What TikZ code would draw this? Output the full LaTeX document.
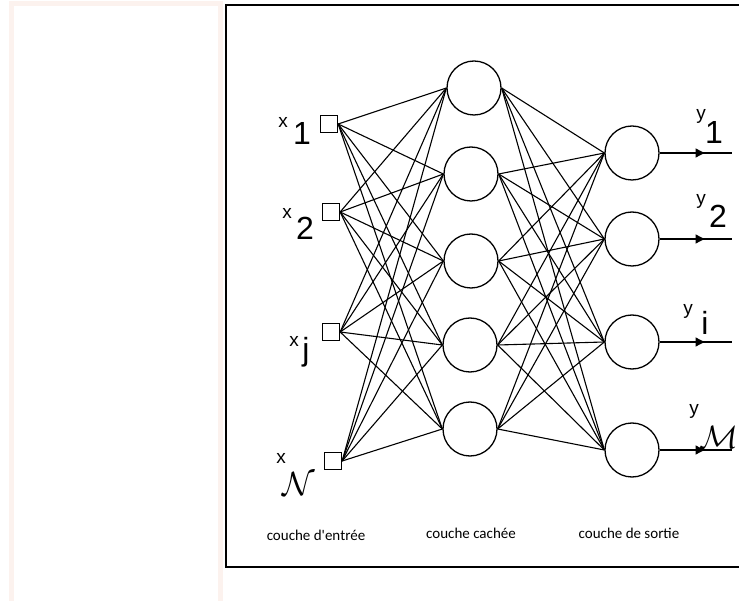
\documentclass[tikz,border=0pt]{standalone}
\usepackage{fontspec}
\setmainfont{Liberation Sans}
\newfontfamily\layerfont{Carlito}
\usetikzlibrary{arrows.meta,decorations.markings}
\definecolor{framepink}{RGB}{252,242,238}

\begin{document}
\begin{tikzpicture}[x=1pt, y=-1pt,
  inbox/.style={draw, line width=1.3pt, minimum size=17pt, inner sep=0pt},
  neuron/.style={draw, circle, line width=1.3pt, minimum size=54pt, inner sep=0pt},
  link/.style={line width=1.1pt},
  varname/.style={inner sep=0pt, font=\fontsize{19}{19}\selectfont},
  varidx/.style={inner sep=0pt, font=\fontsize{32}{32}\selectfont},
  calidx/.style={inner sep=0pt, font=\fontsize{24}{24}\selectfont},
  outarrow/.style={line width=1.3pt, postaction={decorate},
    decoration={markings, mark=at position 0.62 with {\arrow{Triangle[length=9pt,width=9pt]}}}},
  layer/.style={font=\layerfont\fontsize{15}{15}\selectfont}]
\useasboundingbox (0,0) rectangle (739,601);
\clip (0,0) rectangle (739,601);
% page frames
\draw[framepink, line width=5pt] (11,4) rectangle (220,620);
\draw[line width=1.8pt] (745,5) -- (226,5) -- (226,567) -- (745,567);
% layers
\foreach \n/\x/\y in {1/329/124, 2/331/212, 3/331/332, 4/333/461}
  \node[inbox] (i\n) at (\x,\y) {};
\foreach \n/\x/\y in {1/474/88, 2/471/174, 3/471/261, 4/470/345, 5/470/429}
  \node[neuron] (h\n) at (\x,\y) {};
\foreach \n/\y in {1/153, 2/239, 3/342, 4/450}{
  \node[neuron] (o\n) at (632,\y) {};
  \coordinate (e\n) at (732,\y);
  \draw[outarrow] (o\n.east) -- (e\n);
}
% connections
\foreach \i in {1,...,4}
  \foreach \h in {1,...,5}
    \draw[link] (i\i.east) -- (h\h.west);
\foreach \h in {1,...,5}
  \foreach \o in {1,...,4}
    \draw[link] (h\h.east) -- (o\o.west);
% input labels
\foreach \n/\xa/\ya/\xb/\yb/\idx in {1/283/122/302/133/1, 2/287/213/305/228/2,
    3/294/341/306/352/j}{
  \node[varname] (xn\n) at (\xa,\ya) {x};
  \node[varidx] (xs\n) at (\xb,\yb) {\idx};
}
\node[varname] (xn4) at (281,458) {x};
\node[calidx] (xs4) at (299,484) {\scalebox{1.35}{$\mathcal{N}$}};
% output labels
\foreach \n/\xa/\ya/\xb/\yb/\idx in {1/701/116/714/132/1, 2/701/201/718/216/2,
    3/688/311/705/323/i}{
  \node[varname] (yn\n) at (\xa,\ya) {y};
  \node[varidx] (ys\n) at (\xb,\yb) {\idx};
}
\node[varname] (yn4) at (694,411) {y};
\node[calidx] (ys4) at (719,437) {\scalebox{1.3}{$\mathcal{M}$}};
% layer names
\node[layer] (lin) at (316,535) {couche d'entrée};
\node[layer] (lhid) at (471,533) {couche cachée};
\node[layer] (lout) at (629,533) {couche de sortie};
\end{tikzpicture}
\end{document}
